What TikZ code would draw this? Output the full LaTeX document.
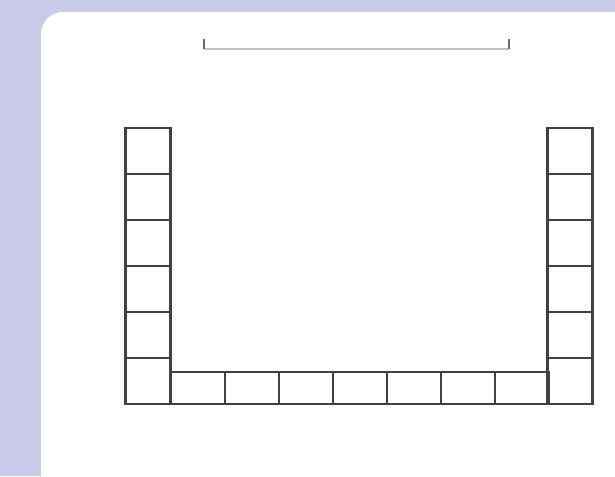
\documentclass[tikz,border=0pt]{standalone}
\definecolor{backlav}{RGB}{201,201,232}
\definecolor{celline}{RGB}{65,65,65}
\definecolor{barline}{RGB}{195,195,195}
\definecolor{tickline}{RGB}{105,105,105}
\tikzset{
  colcell/.style={draw=celline, line width=2.4pt, rectangle, inner sep=0pt, minimum width=45pt, minimum height=46pt},
  rowcell/.style={draw=celline, line width=2.4pt, rectangle, inner sep=0pt, minimum width=54pt, minimum height=32pt}
}
\begin{document}
\begin{tikzpicture}[x=1pt,y=-1pt]
\useasboundingbox (0,0) rectangle (615,476);
\clip (0,0) rectangle (615,476);
\fill[backlav] (0,0) rectangle (615,476);
\fill[white, rounded corners=22pt] (41,12) rectangle (660,520);

% length bar on top
\coordinate (barL) at (204,49);
\coordinate (barR) at (509,49);
\draw[barline, line width=2.5pt] (barL) -- (barR);
\draw[tickline, line width=2.2pt] (barL) -- ++(0,-10);
\draw[tickline, line width=2.2pt] (barR) -- ++(0,-10);

% left column
\node[colcell] (l1) at (148,151) {};
\node[colcell] (l2) at (148,197) {};
\node[colcell] (l3) at (148,243) {};
\node[colcell] (l4) at (148,289) {};
\node[colcell] (l5) at (148,335) {};
\node[colcell] (l6) at (148,381) {};

% bottom row
\node[rowcell] (b1) at (198,388) {};
\node[rowcell] (b2) at (252,388) {};
\node[rowcell] (b3) at (306,388) {};
\node[rowcell] (b4) at (360,388) {};
\node[rowcell] (b5) at (414,388) {};
\node[rowcell] (b6) at (468,388) {};
\node[rowcell] (b7) at (522,388) {};

% right column
\node[colcell] (r1) at (570,151) {};
\node[colcell] (r2) at (570,197) {};
\node[colcell] (r3) at (570,243) {};
\node[colcell] (r4) at (570,289) {};
\node[colcell] (r5) at (570,335) {};
\node[colcell] (r6) at (570,381) {};
\end{tikzpicture}
\end{document}
